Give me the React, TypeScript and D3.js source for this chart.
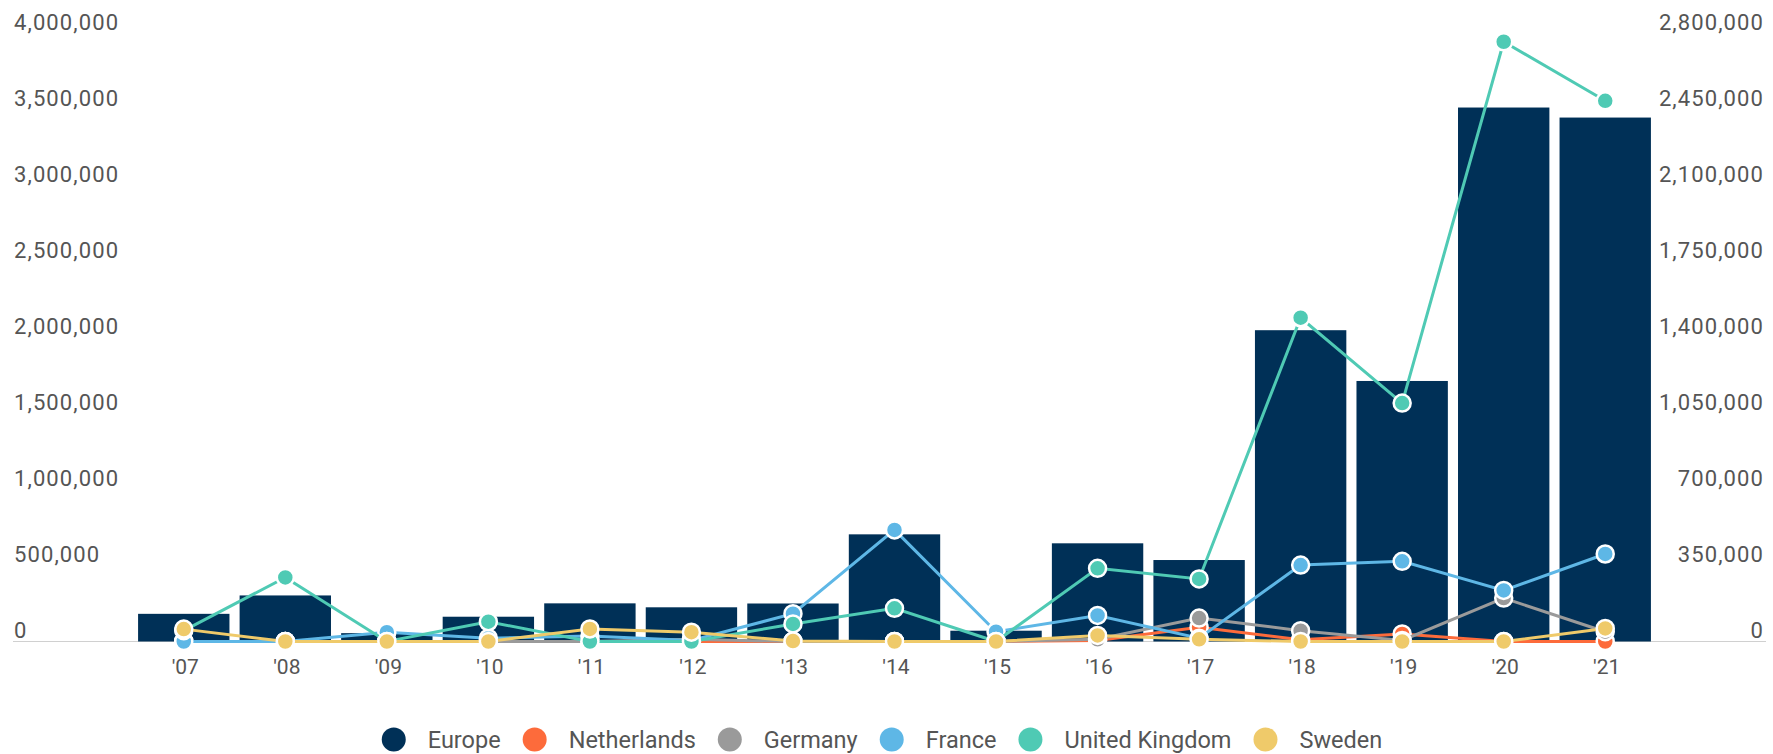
import React from "react";
import * as d3 from "d3";

const years = ["'07", "'08", "'09", "'10", "'11", "'12", "'13", "'14", "'15", "'16", "'17", "'18", "'19", "'20", "'21"];
const europe = [182000, 303000, 55000, 163000, 251000, 225000, 250000, 705000, 71000, 646000, 536000, 2048000, 1714000, 3513000, 3447000];
const netherlands = [0, 0, 0, 0, 0, 0, 0, 0, 0, 5000, 65000, 8000, 35000, 0, 0];
const germany = [0, 0, 0, 0, 0, 10000, 0, 0, 0, 10000, 108000, 50000, 5000, 200000, 45000];
const france = [0, 0, 43000, 15000, 25000, 5000, 128000, 514000, 45000, 120000, 15000, 352000, 369000, 235000, 403000];
const uk = [50000, 295000, 0, 91000, 0, 0, 81000, 153000, 0, 337000, 288000, 1491000, 1098000, 2762000, 2490000];
const sweden = [57000, 0, 0, 0, 58000, 43000, 2000, 0, 0, 28000, 10000, 0, 0, 0, 60000];

const leftTicks = [0, 500000, 1000000, 1500000, 2000000, 2500000, 3000000, 3500000, 4000000];
const rightTicks = [0, 350000, 700000, 1050000, 1400000, 1750000, 2100000, 2450000, 2800000];

const seriesNames = ["Europe", "Netherlands", "Germany", "France", "United Kingdom", "Sweden"];
const colors = ["#003057", "#fd6b3b", "#9a9a9a", "#5eb7e6", "#4fcab4", "#efca6a"];
const lineSeries = [netherlands, germany, france, uk, sweden];

const W = 1773;
const H = 754;

function measure(text: string, font: string): number {
  const c = document.createElement("canvas");
  const ctx = c.getContext("2d");
  if (!ctx) return text.length * 12;
  ctx.font = font;
  return ctx.measureText(text).width;
}

export default function App() {
  const x = d3.scaleBand<string>().domain(years).range([133, 1656]).paddingInner(0.1).paddingOuter(0.05);
  const yL = d3.scaleLinear().domain([0, 4000000]).range([641.5, 33.5]);
  const yR = d3.scaleLinear().domain([0, 2800000]).range([641.5, 33.5]);
  const fmt = d3.format(",");
  const line = d3
    .line<number>()
    .x((_, i) => (x(years[i]) as number) + x.bandwidth() / 2)
    .y((d) => yR(d));

  const legendFont = "23.5px Roboto";
  const r = 12;
  const items = seriesNames.map((n) => ({ n, w: measure(n, legendFont) }));
  const gapCircleText = 22;
  const gapItems = 22;
  const total = items.reduce((s, it) => s + 2 * r + gapCircleText + it.w, 0) + gapItems * (items.length - 1);
  let cx = 882 - total / 2;
  const legendPos = items.map((it) => {
    const p = { cx: cx + r, tx: cx + 2 * r + gapCircleText };
    cx += 2 * r + gapCircleText + it.w + gapItems;
    return p;
  });

  return (
    <div style={{ position: "absolute", left: 0, top: 0 }}>
      <svg width={W} height={H} style={{ display: "block", fontFamily: "Roboto, sans-serif" }}>
        <rect width={W} height={H} fill="#ffffff" />
        {leftTicks.map((t) => (
          <text key={"l" + t} x={14} y={yL(t) - 4} fontSize={22} letterSpacing={1.1} fill="#555">
            {fmt(t)}
          </text>
        ))}
        {rightTicks.map((t) => (
          <text key={"r" + t} x={1764} y={yR(t) - 4} fontSize={22} letterSpacing={1.1} textAnchor="end" fill="#555">
            {fmt(t)}
          </text>
        ))}
        <line x1={13} x2={1766} y1={641.5} y2={641.5} stroke="#d0d0d0" strokeWidth={1.2} />
        {europe.map((v, i) => (
          <rect
            key={"b" + i}
            x={x(years[i])}
            y={yL(v)}
            width={x.bandwidth()}
            height={yL(0) - yL(v)}
            fill={colors[0]}
          />
        ))}
        {lineSeries.map((s, si) => (
          <g key={"s" + si}>
            <path d={line(s) || ""} fill="none" stroke={colors[si + 1]} strokeWidth={3} />
            {s.map((v, i) => (
              <circle
                key={i}
                cx={(x(years[i]) as number) + x.bandwidth() / 2}
                cy={yR(v)}
                r={8.5}
                fill={colors[si + 1]}
                stroke="#ffffff"
                strokeWidth={2.5}
              />
            ))}
          </g>
        ))}
        {years.map((yv) => (
          <text
            key={"x" + yv}
            x={(x(yv) as number) + x.bandwidth() / 2 + 1.5}
            y={674}
            fontSize={21}
            textAnchor="middle"
            fill="#555"
          >
            {yv}
          </text>
        ))}
        {items.map((it, i) => (
          <g key={"lg" + i}>
            <circle cx={legendPos[i].cx} cy={739.5} r={r} fill={colors[i]} />
            <text x={legendPos[i].tx} y={747.5} fontSize={23.5} fill="#555">
              {it.n}
            </text>
          </g>
        ))}
      </svg>
    </div>
  );
}
